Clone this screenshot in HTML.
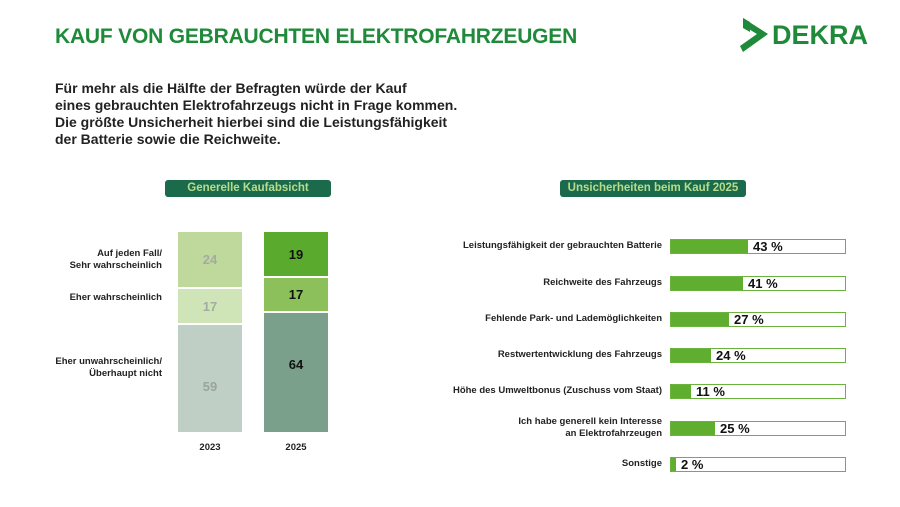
<!DOCTYPE html>
<html><head><meta charset="utf-8"><style>
body{margin:0;width:900px;height:507px;background:#fff;font-family:"Liberation Sans",sans-serif;position:relative;overflow:hidden}
.a{position:absolute}
h1{position:absolute;left:55px;top:25px;margin:0;font-size:21px;color:#1e8a3a;font-weight:bold;letter-spacing:-0.2px}
.sub{left:55px;top:80px;font-size:14px;font-weight:bold;color:#222;line-height:17px}
.pill{background:#1c6a4c;color:#b7dc8c;font-size:11.5px;font-weight:bold;text-align:center;line-height:17px;height:17px;border-radius:3px}
.seg{position:absolute;left:0;width:64px;display:flex;align-items:center;justify-content:center;font-size:13px;font-weight:bold}
.lab{font-size:9.5px;font-weight:bold;color:#222;text-align:right;line-height:12px}
.row{position:absolute;left:670px;width:174px;height:13px;border:1px solid #6ab33d;background:#fff}
.row .f{position:absolute;left:0;top:0;bottom:0;background:#5fae2f}
.row .v{position:absolute;top:-1px;font-size:13px;font-weight:bold;color:#111}
</style></head><body>
<h1>KAUF VON GEBRAUCHTEN ELEKTROFAHRZEUGEN</h1>
<svg class="a" style="left:740px;top:16px" width="140" height="38" viewBox="0 0 140 38">
<polygon points="3,2 28,18 3,36 0,30 17,18 7,12 7,8" fill="#1e8a3a"/>
<polygon points="3,2 10,6 10,16 3,12" fill="#1e8a3a"/>
<text x="32" y="28" font-family="Liberation Sans" font-weight="bold" font-size="27" fill="#1e8a3a">DEKRA</text>
</svg>
<div class="a sub">Für mehr als die Hälfte der Befragten würde der Kauf<br>eines gebrauchten Elektrofahrzeugs nicht in Frage kommen.<br>Die größte Unsicherheit hierbei sind die Leistungsfähigkeit<br>der Batterie sowie die Reichweite.</div>

<div class="a pill" style="left:165px;top:180px;width:166px">Generelle Kaufabsicht</div>
<div class="a pill" style="left:560px;top:180px;width:186px">Unsicherheiten beim Kauf 2025</div>

<div class="a lab" style="right:738px;top:248px">Auf jeden Fall/<br>Sehr wahrscheinlich</div>
<div class="a lab" style="right:738px;top:292px">Eher wahrscheinlich</div>
<div class="a lab" style="right:738px;top:356px">Eher unwahrscheinlich/<br>Überhaupt nicht</div>

<div class="a" style="left:178px;top:232px;width:64px;height:200px">
<div class="seg" style="top:0;height:55px;background:#bfd99c;color:#a3aba3">24</div>
<div class="seg" style="top:57px;height:34px;background:#cfe4b7;color:#a3aba3">17</div>
<div class="seg" style="top:93px;height:107px;background:#c0cfc5;color:#9aa39e;padding-top:16px;box-sizing:border-box">59</div>
</div>
<div class="a" style="left:264px;top:232px;width:64px;height:200px">
<div class="seg" style="top:0;height:44px;background:#5aab2d;color:#111">19</div>
<div class="seg" style="top:46px;height:33px;background:#8cc05a;color:#111">17</div>
<div class="seg" style="top:81px;height:119px;background:#7a9f8a;color:#111;padding-bottom:16px;box-sizing:border-box">64</div>
</div>
<div class="a lab" style="left:178px;width:64px;text-align:center;top:442px">2023</div>
<div class="a lab" style="left:264px;width:64px;text-align:center;top:442px">2025</div>

<div class="a lab" style="right:238px;top:240px">Leistungsfähigkeit der gebrauchten Batterie</div>
<div class="row" style="top:239px"><div class="f" style="width:77px"></div><div class="v" style="left:82px">43 %</div></div>
<div class="a lab" style="right:238px;top:277px">Reichweite des Fahrzeugs</div>
<div class="row" style="top:276px"><div class="f" style="width:72px"></div><div class="v" style="left:77px">41 %</div></div>
<div class="a lab" style="right:238px;top:313px">Fehlende Park- und Lademöglichkeiten</div>
<div class="row" style="top:312px"><div class="f" style="width:58px"></div><div class="v" style="left:63px">27 %</div></div>
<div class="a lab" style="right:238px;top:349px">Restwertentwicklung des Fahrzeugs</div>
<div class="row" style="top:348px"><div class="f" style="width:40px"></div><div class="v" style="left:45px">24 %</div></div>
<div class="a lab" style="right:238px;top:385px">Höhe des Umweltbonus (Zuschuss vom Staat)</div>
<div class="row" style="top:384px"><div class="f" style="width:20px"></div><div class="v" style="left:25px">11 %</div></div>
<div class="a lab" style="right:238px;top:416px">Ich habe generell kein Interesse<br>an Elektrofahrzeugen</div>
<div class="row" style="top:421px"><div class="f" style="width:44px"></div><div class="v" style="left:49px">25 %</div></div>
<div class="a lab" style="right:238px;top:458px">Sonstige</div>
<div class="row" style="top:457px"><div class="f" style="width:5px"></div><div class="v" style="left:10px">2 %</div></div>
</body></html>
